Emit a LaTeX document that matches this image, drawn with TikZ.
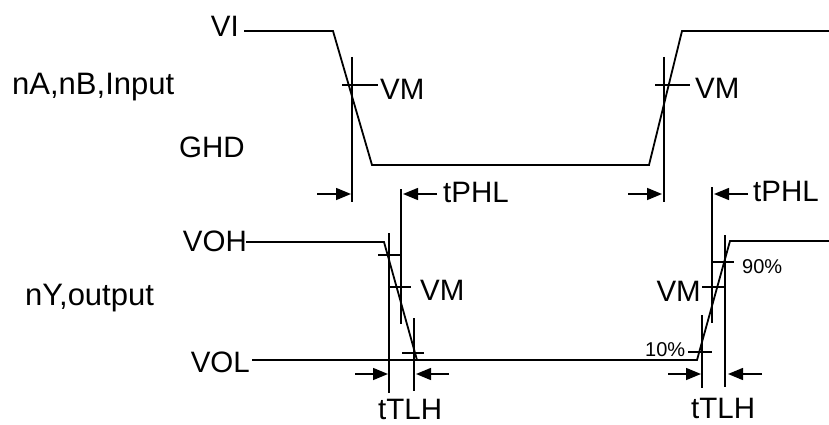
\documentclass[tikz,border=0pt]{standalone}
\usepackage{fontspec}
\setmainfont{Liberation Sans}
\usetikzlibrary{arrows.meta}
\tikzset{
  wave/.style={line width=1.8pt, line join=miter},
  mark line/.style={line width=1.5pt},
  dimarrow/.style={line width=1.5pt, -{Triangle[length=15pt,width=12pt]}},
  lbl/.style={inner sep=0pt, font=\fontsize{29.5}{34}\selectfont},
  side lbl/.style={inner sep=0pt, font=\fontsize{31}{36}\selectfont},
  small lbl/.style={inner sep=0pt, font=\fontsize{20}{24}\selectfont},
}
\begin{document}
\begin{tikzpicture}[x=1pt,y=-1pt]
\useasboundingbox (0,0) rectangle (829,425);
% ---------- labels ----------
\node[lbl, anchor=base east] (vi) at (239,37) {VI};
\node[side lbl, anchor=base west] (inlbl) at (12,95) {nA,nB,Input};
\node[lbl, anchor=base west] (ghd) at (179,157) {GHD};
\node[lbl, anchor=base west] (vm1) at (380,100) {VM};
\node[lbl, anchor=base west] (vm2) at (695,99) {VM};
\node[lbl, anchor=base west] (tphl1) at (443,202) {tPHL};
\node[lbl, anchor=base west] (tphl2) at (753,201) {tPHL};
\node[lbl, anchor=base east] (voh) at (247,251) {VOH};
\node[side lbl, anchor=base west] (outlbl) at (25,305) {nY,output};
\node[lbl, anchor=base west] (vm3) at (420,300) {VM};
\node[lbl, anchor=base east] (vol) at (250,372) {VOL};
\node[lbl, anchor=base west] (ttlh1) at (378,419) {tTLH};
\node[lbl, anchor=base west] (ttlh2) at (691,418) {tTLH};
\node[lbl, anchor=base east] (vm4) at (701,301) {VM};
\node[small lbl, anchor=base west] (p90) at (742,273) {90\%};
\node[small lbl, anchor=base west] (p10) at (645,356) {10\%};
% ---------- input waveform ----------
\coordinate (i0) at (244,31);
\coordinate (i1) at (333,31);
\coordinate (i2) at (372,165);
\coordinate (i3) at (649,165);
\coordinate (i4) at (682,31);
\coordinate (i5) at (829,31);
\draw[wave] (i0) -- (i1) -- (i2) -- (i3) -- (i4) -- (i5);
% input markers
\coordinate (a1t) at (352,57);  \coordinate (a1b) at (352,202);
\draw[mark line] (a1t) -- (a1b);
\coordinate (m1l) at (342,85);  \coordinate (m1r) at (378,85);
\draw[mark line] (m1l) -- (m1r);
\coordinate (a2t) at (664,57);  \coordinate (a2b) at (664,202);
\draw[mark line] (a2t) -- (a2b);
\coordinate (m2l) at (655,85);  \coordinate (m2r) at (690,85);
\draw[mark line] (m2l) -- (m2r);
% tPHL verticals
\coordinate (p1t) at (401,189); \coordinate (p1b) at (401,324);
\draw[mark line] (p1t) -- (p1b);
\coordinate (p2t) at (712,187); \coordinate (p2b) at (712,323);
\draw[mark line] (p2t) -- (p2b);
% tPHL arrows
\coordinate (ar1s) at (317,194); \coordinate (ar1e) at (351,194);
\draw[dimarrow] (ar1s) -- (ar1e);
\coordinate (ar2s) at (437,194); \coordinate (ar2e) at (403,194);
\draw[dimarrow] (ar2s) -- (ar2e);
\coordinate (ar3s) at (628,194); \coordinate (ar3e) at (662,194);
\draw[dimarrow] (ar3s) -- (ar3e);
\coordinate (ar4s) at (748,194); \coordinate (ar4e) at (714,194);
\draw[dimarrow] (ar4s) -- (ar4e);
% ---------- output waveform ----------
\coordinate (o0) at (246,242);
\coordinate (o1) at (384,242);
\coordinate (o2) at (417,360);
\coordinate (l0) at (252,360);
\coordinate (o3) at (697,360);
\coordinate (o4) at (730,241);
\coordinate (o5) at (829,241);
\draw[wave] (o0) -- (o1) -- (o2);
\draw[wave] (l0) -- (o3) -- (o4) -- (o5);
% output left markers
\coordinate (b1t) at (389,233); \coordinate (b1b) at (389,393);
\draw[mark line] (b1t) -- (b1b);
\coordinate (t1l) at (378,255); \coordinate (t1r) at (401,255);
\draw[mark line] (t1l) -- (t1r);
\coordinate (t2l) at (389,287); \coordinate (t2r) at (411,287);
\draw[mark line] (t2l) -- (t2r);
\coordinate (b2t) at (414,318); \coordinate (b2b) at (414,391);
\draw[mark line] (b2t) -- (b2b);
\coordinate (t3l) at (402,353); \coordinate (t3r) at (424,353);
\draw[mark line] (t3l) -- (t3r);
% output right markers
\coordinate (c1t) at (702,315); \coordinate (c1b) at (702,388);
\draw[mark line] (c1t) -- (c1b);
\coordinate (u1l) at (688,352); \coordinate (u1r) at (712,352);
\draw[mark line] (u1l) -- (u1r);
\coordinate (c2t) at (725,235); \coordinate (c2b) at (725,387);
\draw[mark line] (c2t) -- (c2b);
\coordinate (u2l) at (712,262); \coordinate (u2r) at (734,262);
\draw[mark line] (u2l) -- (u2r);
\coordinate (u3l) at (702,287); \coordinate (u3r) at (725,287);
\draw[mark line] (u3l) -- (u3r);
% tTLH arrows
\coordinate (br1s) at (355,374); \coordinate (br1e) at (388,374);
\draw[dimarrow] (br1s) -- (br1e);
\coordinate (br2s) at (449,374); \coordinate (br2e) at (416,374);
\draw[dimarrow] (br2s) -- (br2e);
\coordinate (br3s) at (668,374); \coordinate (br3e) at (701,374);
\draw[dimarrow] (br3s) -- (br3e);
\coordinate (br4s) at (762,374); \coordinate (br4e) at (728,374);
\draw[dimarrow] (br4s) -- (br4e);
\end{tikzpicture}
\end{document}
